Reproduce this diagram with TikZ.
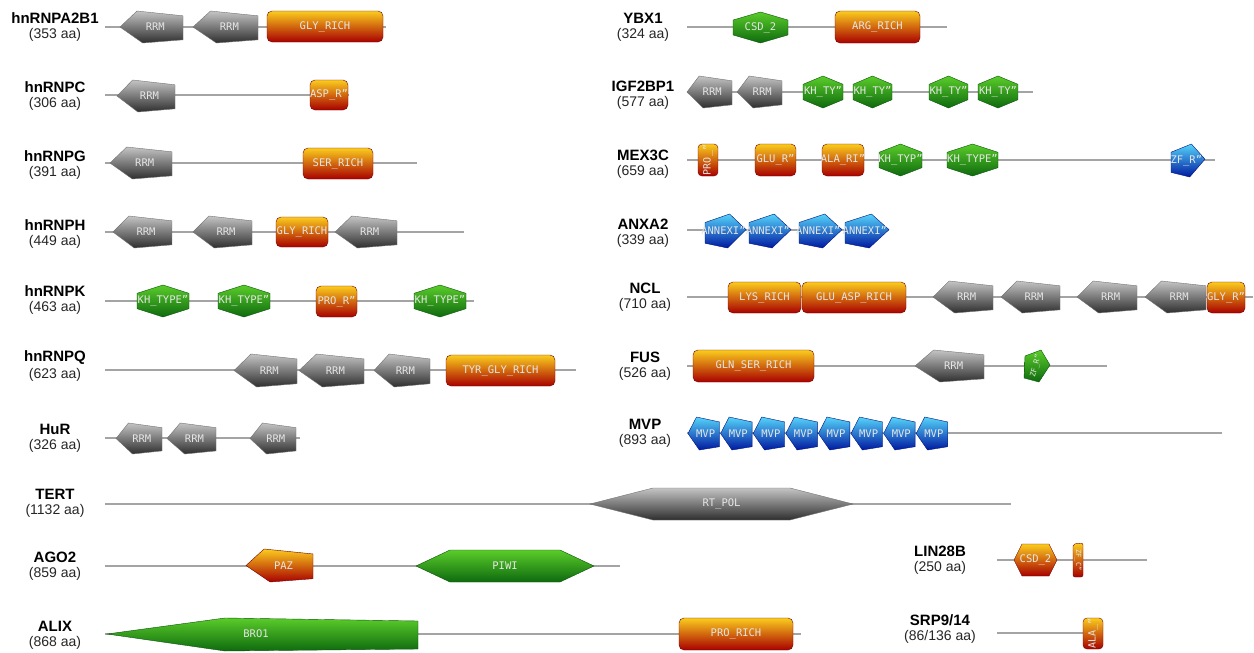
\documentclass[tikz,border=0pt]{standalone}
\usepackage{fontspec}
\setmainfont{Liberation Sans}
\newfontfamily\dmono{DejaVu Sans Mono}
\newcommand\dlabfont{\dmono\fontsize{10.5}{11}\selectfont}
\definecolor{gtop}{HTML}{C4C4C4}
\definecolor{gbot}{HTML}{2E2E2E}
\definecolor{ntop}{HTML}{5ACC2A}
\definecolor{nbot}{HTML}{0E6A0E}
\definecolor{otop}{HTML}{FACC1E}
\definecolor{obot}{HTML}{A80000}
\definecolor{btop}{HTML}{55D4FA}
\definecolor{bbot}{HTML}{0018A0}
\definecolor{bbline}{HTML}{A4A4A4}
\tikzset{
  bb/.style={draw=bbline, line width=2.8pt},
  grayd/.style={draw=black!55, line width=0.4pt, top color=gtop, bottom color=gbot},
  greend/.style={draw=nbot!80!black, line width=0.4pt, top color=ntop, bottom color=nbot},
  oranged/.style={draw=obot!70!black, line width=0.4pt, top color=otop, bottom color=obot},
  blued/.style={draw=bbot!80!black, line width=0.4pt, top color=btop, bottom color=bbot},
  dlab/.style={font=\dlabfont, text=white!90!black, inner sep=0pt},
  pname/.style={font=\fontsize{15}{17}\selectfont\bfseries, inner sep=0pt},
  paa/.style={font=\fontsize{14}{16}\selectfont, inner sep=0pt, text=black!85}
}
% #1 name, #2 x0, #3 x1, #4 ytop, #5 ybot, #6 style, #7 label
\newcommand\PentL[7]{%
  \path[#6] (#2,{((#4)+(#5))/2}) -- ({(#2)+0.27*((#3)-(#2))},#4) -- (#3,{(#4)+0.15*((#5)-(#4))}) -- (#3,{(#5)-0.1*((#5)-(#4))}) -- ({(#2)+0.36*((#3)-(#2))},#5) -- cycle;
  \node[dlab] (#1) at ({(#2)+0.56*((#3)-(#2))},{((#4)+(#5))/2}) {#7};}
\newcommand\PentR[7]{%
  \path[#6] (#3,{((#4)+(#5))/2-0.04*((#5)-(#4))}) -- ({(#2)+0.6*((#3)-(#2))},#4) -- (#2,{(#4)+0.25*((#5)-(#4))}) -- (#2,{(#5)-0.14*((#5)-(#4))}) -- ({(#2)+0.55*((#3)-(#2))},#5) -- cycle;
  \node[dlab] (#1) at ({(#2)+0.45*((#3)-(#2))},{((#4)+(#5))/2}) {#7};}
\newcommand\HexV[7]{%
  \path[#6] (#2,{(#4)+0.26*((#5)-(#4))}) -- ({((#2)+(#3))/2},#4) -- (#3,{(#4)+0.26*((#5)-(#4))}) -- (#3,{(#5)-0.26*((#5)-(#4))}) -- ({((#2)+(#3))/2},#5) -- (#2,{(#5)-0.26*((#5)-(#4))}) -- cycle;
  \node[dlab] (#1) at ({((#2)+(#3))/2},{((#4)+(#5))/2}) {#7};}
% #1 name #2 x0 #3 x1 #4 yt #5 yb #6 a #7 style #8 label
\newcommand\HexH[8]{%
  \path[#7] (#2,{((#4)+(#5))/2}) -- ({(#2)+(#6)},#4) -- ({(#3)-(#6)},#4) -- (#3,{((#4)+(#5))/2}) -- ({(#3)-(#6)},#5) -- ({(#2)+(#6)},#5) -- cycle;
  \node[dlab] (#1) at ({((#2)+(#3))/2},{((#4)+(#5))/2}) {#8};}
\newcommand\RBox[7]{%
  \path[#6, rounded corners=5pt] (#2,#4) rectangle (#3,#5);
  \node[dlab] (#1) at ({((#2)+(#3))/2},{((#4)+(#5))/2}) {#7};}
\newcommand\RBoxV[7]{%
  \path[#6, rounded corners=4pt] (#2,#4) rectangle (#3,#5);
  \node[dlab, rotate=90, font=\dmono\fontsize{10}{10}\selectfont] (#1) at ({((#2)+(#3))/2},{((#4)+(#5))/2}) {#7};}
% #1 name #2 x0 #3 x1 #4 y
\newcommand\Backbone[4]{%
  \coordinate (#1-s) at (#2,#4); \coordinate (#1-e) at (#3,#4);
  \draw[bb] (#1-s) -- (#1-e);}
% #1 name #2 x #3 y #4 protein #5 aa
\newcommand\Prot[5]{%
  \node[pname] (#1-n) at (#2,#3) {#4};
  \node[paa] (#1-a) at (#2,{(#3)+17}) {(#5)};}
\begin{document}
\begin{tikzpicture}[x=1pt,y=-1pt]
\useasboundingbox (0,0) rectangle (1254,653);
\fill[white] (0,0) rectangle (1254,653);
% ---------------- left column ----------------
% hnRNPA2B1
\Prot{a2b1}{55}{18}{hnRNPA2B1}{353 aa}
\Backbone{a2b1}{105}{386}{27}
\PentL{a2b1d1}{120}{183}{11}{43}{grayd}{RRM}
\PentL{a2b1d2}{193}{258}{11}{43}{grayd}{RRM}
\RBox{a2b1d3}{267}{383}{11}{42}{oranged}{GLY\_RICH}
% hnRNPC
\Prot{c}{55}{87}{hnRNPC}{306 aa}
\Backbone{c}{105}{349}{95}
\PentL{cd1}{117}{175}{80}{112}{grayd}{RRM}
\RBox{cd2}{310}{348}{80}{110}{oranged}{ASP\_R”}
% hnRNPG
\Prot{g}{55}{156}{hnRNPG}{391 aa}
\Backbone{g}{105}{417}{163}
\PentL{gd1}{110}{172}{147}{179}{grayd}{RRM}
\RBox{gd2}{303}{373}{148}{179}{oranged}{SER\_RICH}
% hnRNPH
\Prot{h}{55}{225}{hnRNPH}{449 aa}
\Backbone{h}{105}{464}{232}
\PentL{hd1}{113}{172}{216}{248}{grayd}{RRM}
\PentL{hd2}{193}{252}{216}{248}{grayd}{RRM}
\RBox{hd3}{276}{328}{217}{247}{oranged}{GLY\_RICH}
\PentL{hd4}{335}{397}{216}{248}{grayd}{RRM}
% hnRNPK
\Prot{k}{55}{291}{hnRNPK}{463 aa}
\Backbone{k}{105}{474}{301}
\HexV{kd1}{137}{189}{285}{317}{greend}{KH\_TYPE”}
\HexV{kd2}{218}{270}{285}{317}{greend}{KH\_TYPE”}
\RBox{kd3}{316}{357}{286}{317}{oranged}{PRO\_R”}
\HexV{kd4}{414}{466}{285}{317}{greend}{KH\_TYPE”}
% hnRNPQ
\Prot{q}{55}{358}{hnRNPQ}{623 aa}
\Backbone{q}{105}{576}{370}
\PentL{qd1}{234}{297}{354}{387}{grayd}{RRM}
\PentL{qd2}{299}{364}{354}{387}{grayd}{RRM}
\PentL{qd3}{374}{430}{354}{387}{grayd}{RRM}
\RBox{qd4}{446}{555}{355}{386}{oranged}{TYR\_GLY\_RICH}
% HuR
\Prot{hur}{55}{429}{HuR}{326 aa}
\Backbone{hur}{105}{300}{438}
\PentL{hurd1}{116}{162}{423}{454}{grayd}{RRM}
\PentL{hurd2}{167}{216}{423}{454}{grayd}{RRM}
\PentL{hurd3}{250}{296}{423}{454}{grayd}{RRM}
% TERT
\Prot{tert}{55}{494}{TERT}{1132 aa}
\Backbone{tert}{105}{1011}{504}
\HexH{tertd1}{590}{853}{488}{520}{63}{grayd}{RT\_POL}
% AGO2
\Prot{ago}{55}{557}{AGO2}{859 aa}
\Backbone{ago}{105}{620}{566}
\PentL{agod1}{246}{313}{549}{582}{oranged}{PAZ}
\HexH{agod2}{416}{594}{550}{582}{34}{greend}{PIWI}
% ALIX
\Prot{alix}{55}{626}{ALIX}{868 aa}
\Backbone{alix}{105}{801}{634}
\path[greend] (107,634) -- (225,618) -- (418,621) -- (418,649) -- (225,651) -- cycle;
\node[dlab] (alixd1) at (256,634) {BRO1};
\RBox{alixd2}{679}{793}{618}{650}{oranged}{PRO\_RICH}
% ---------------- right column ----------------
% YBX1
\Prot{ybx}{643}{18}{YBX1}{324 aa}
\Backbone{ybx}{687}{947}{27}
\HexV{ybxd1}{733}{788}{12}{43}{greend}{CSD\_2}
\RBox{ybxd2}{835}{920}{11}{43}{oranged}{ARG\_RICH}
% IGF2BP1
\Prot{igf}{643}{86}{IGF2BP1}{577 aa}
\Backbone{igf}{687}{1033}{92}
\PentL{igfd1}{687}{732}{76}{108}{grayd}{RRM}
\PentL{igfd2}{737}{782}{76}{108}{grayd}{RRM}
\HexV{igfd3}{803}{843}{76}{108}{greend}{KH\_TY”}
\HexV{igfd4}{853}{892}{76}{108}{greend}{KH\_TY”}
\HexV{igfd5}{929}{968}{76}{108}{greend}{KH\_TY”}
\HexV{igfd6}{978}{1018}{76}{108}{greend}{KH\_TY”}
% MEX3C
\Prot{mex}{643}{155}{MEX3C}{659 aa}
\Backbone{mex}{687}{1215}{160}
\RBoxV{mexd1}{698}{718}{144}{176}{oranged}{PRO\_”}
\RBox{mexd2}{755}{796}{144}{176}{oranged}{GLU\_R”}
\RBox{mexd3}{822}{864}{144}{176}{oranged}{ALA\_RI”}
\HexV{mexd4}{879}{922}{144}{176}{greend}{KH\_TYP”}
\HexV{mexd5}{947}{998}{144}{176}{greend}{KH\_TYPE”}
\PentR{mexd6}{1171}{1205}{144}{177}{blued}{ZF\_R”}
% ANXA2
\Prot{anx}{643}{224}{ANXA2}{339 aa}
\Backbone{anx}{687}{889}{230}
\PentR{anxd1}{705}{746}{214}{248}{blued}{ANNEXI”}
\PentR{anxd2}{749}{791}{214}{248}{blued}{ANNEXI”}
\PentR{anxd3}{799}{842}{214}{248}{blued}{ANNEXI”}
\PentR{anxd4}{845}{889}{214}{248}{blued}{ANNEXI”}
% NCL
\Prot{ncl}{645}{288}{NCL}{710 aa}
\Backbone{ncl}{687}{1253}{297}
\RBox{ncld1}{728}{801}{282}{313}{oranged}{LYS\_RICH}
\RBox{ncld2}{802}{906}{282}{313}{oranged}{GLU\_ASP\_RICH}
\PentL{ncld3}{933}{993}{281}{313}{grayd}{RRM}
\PentL{ncld4}{1001}{1060}{281}{313}{grayd}{RRM}
\PentL{ncld5}{1077}{1137}{281}{313}{grayd}{RRM}
\PentL{ncld6}{1145}{1206}{281}{313}{grayd}{RRM}
\RBox{ncld7}{1207}{1245}{282}{313}{oranged}{GLY\_R”}
% FUS
\Prot{fus}{645}{357}{FUS}{526 aa}
\Backbone{fus}{687}{1107}{366}
\RBox{fusd1}{693}{814}{350}{382}{oranged}{GLN\_SER\_RICH}
\PentL{fusd2}{915}{984}{350}{382}{grayd}{RRM}
\path[greend] (1050,365) -- (1041,350) -- (1025,356) -- (1024,378) -- (1039,382) -- cycle;
\node[dlab, rotate=75, font=\dmono\fontsize{7.5}{7.5}\selectfont] (fusd3) at (1036,366) {ZF\_R”};
% MVP
\Prot{mvp}{645}{424}{MVP}{893 aa}
\Backbone{mvp}{687}{1222}{433}
\foreach \i in {0,...,7}{
  \pgfmathsetmacro\xa{688+32.6*\i}
  \pgfmathsetmacro\xb{719.5+32.6*\i}
  \PentL{mvpd\i}{\xa}{\xb}{417}{450}{blued}{MVP}
}
% LIN28B
\Prot{lin}{940}{551}{LIN28B}{250 aa}
\Backbone{lin}{997}{1147}{560}
\HexH{lind1}{1014}{1057}{544}{576}{8}{oranged}{CSD\_2}
\path[oranged, rounded corners=2pt] (1073,544) -- (1083,543) -- (1083,577) -- (1073,577) -- cycle;
\node[dlab, rotate=-90, font=\dmono\fontsize{7}{7}\selectfont] (lind2) at (1078,560) {ZF\_C”};
% SRP9/14
\Prot{srp}{940}{620}{SRP9/14}{86/136 aa}
\Backbone{srp}{997}{1103}{633}
\RBoxV{srpd1}{1083}{1103}{618}{649}{oranged}{ALA\_”}
\end{tikzpicture}
\end{document}
